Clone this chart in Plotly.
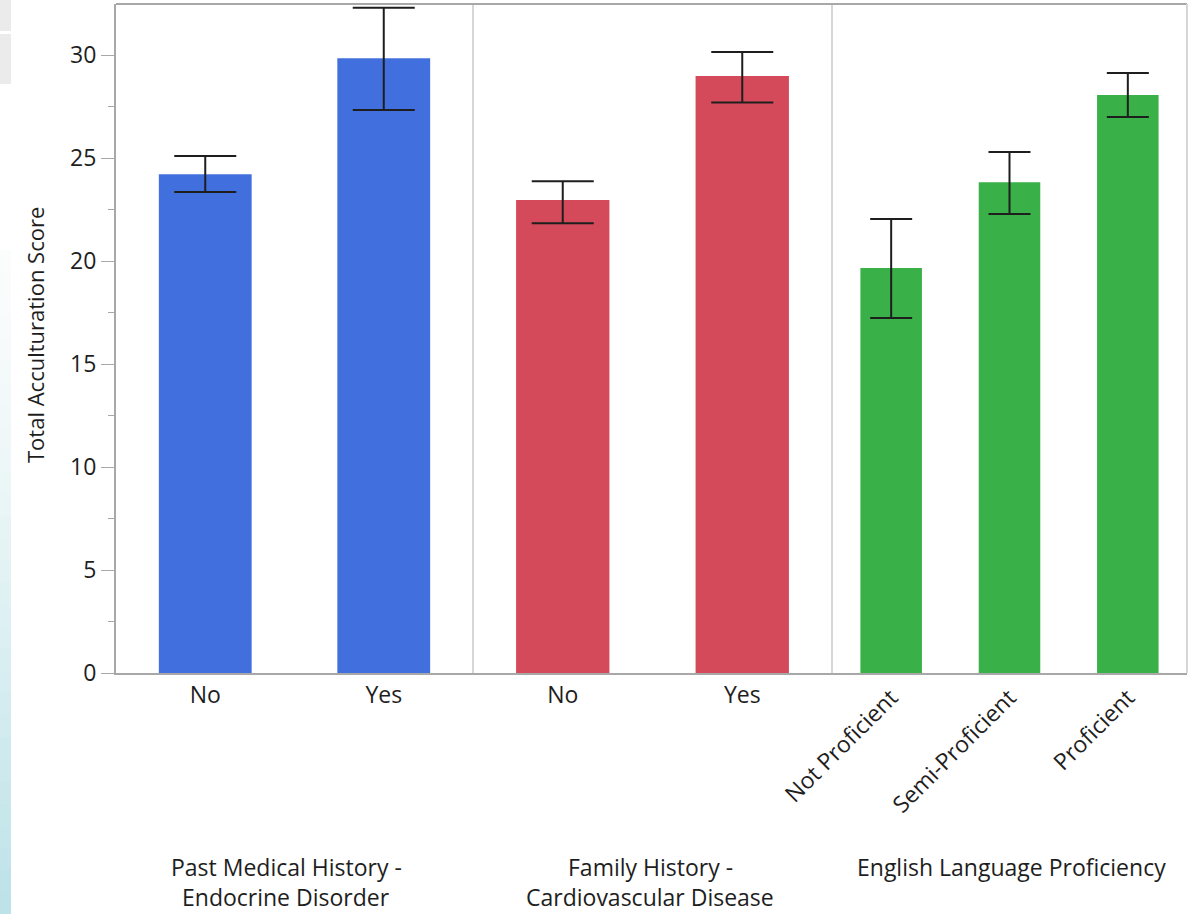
import plotly.graph_objects as go
from plotly.subplots import make_subplots

# ---- data ----
cats_pmh = ["No", "Yes"]
mean_pmh = [24.22, 29.85]
upper_pmh = [25.10, 32.30]
lower_pmh = [23.35, 27.33]

cats_fh = ["No", "Yes"]
mean_fh = [22.96, 28.98]
upper_fh = [23.88, 30.15]
lower_fh = [21.84, 27.70]

cats_elp = ["Not Proficient", "Semi-Proficient", "Proficient"]
mean_elp = [19.66, 23.83, 28.06]
upper_elp = [22.04, 25.30, 29.13]
lower_elp = [17.23, 22.28, 26.99]

group_labels = [["Past Medical History -", "Endocrine Disorder"],
                ["Family History -", "Cardiovascular Disease"],
                ["English Language Proficiency"]]
y_title = "Total Acculturation Score"

colors = ["#4170DE", "#D44A5A", "#3AB048"]
FONT = "Open Sans"
TXT = "#1E1E1E"

W, H = 1191, 914
L, R, T, B = 116, 4, 4, 241
pw = W - L - R
ph = H - T - B

fig = make_subplots(rows=1, cols=3, shared_yaxes=True, horizontal_spacing=0,
                    column_widths=[357, 359, 355])

groups = [(cats_pmh, mean_pmh, upper_pmh, lower_pmh, 31),
          (cats_fh, mean_fh, upper_fh, lower_fh, 31),
          (cats_elp, mean_elp, upper_elp, lower_elp, 21)]

for i, (c, m, u, lo, ew) in enumerate(groups):
    fig.add_trace(go.Bar(
        x=c, y=m, marker=dict(color=colors[i], line=dict(width=0)),
        width=0.52,
        error_y=dict(type="data", symmetric=False,
                     array=[a - b for a, b in zip(u, m)],
                     arrayminus=[b - a for a, b in zip(lo, m)],
                     color="#1E1E1E", thickness=2, width=ew),
        showlegend=False), row=1, col=i + 1)

axis_line = "#A8A8A8"
for i in range(3):
    fig.update_xaxes(row=1, col=i + 1, showline=True, linecolor=axis_line, linewidth=2,
                     ticks="", showgrid=False,
                     tickfont=dict(family=FONT, size=23, color=TXT),
                     tickangle=-45 if i == 2 else 0)

fig.update_yaxes(row=1, col=1, range=[0, 32.48], showline=True, linecolor=axis_line,
                 linewidth=2, ticks="outside", ticklen=13, tickcolor=axis_line, tickwidth=1,
                 dtick=5, showgrid=False, zeroline=False,
                 tickfont=dict(family=FONT, size=23, color=TXT),
                 minor=dict(ticks="outside", ticklen=6, dtick=2.5, tickcolor=axis_line,
                            showgrid=False))
for c in (2, 3):
    fig.update_yaxes(row=1, col=c, range=[0, 32.48], showgrid=False, zeroline=False,
                     showline=False, ticks="")

def px_x(p):
    return (p - L) / pw

def px_y(p):
    return (H - B - p) / ph

shapes = []
# panel separators
for xp in (473, 832):
    shapes.append(dict(type="line", xref="paper", yref="paper", x0=px_x(xp), x1=px_x(xp),
                       y0=0, y1=1, line=dict(color="#D6D6D6", width=2)))
# frame top & right
shapes.append(dict(type="line", xref="paper", yref="paper", x0=0, x1=1, y0=1, y1=1,
                   line=dict(color=axis_line, width=2)))
shapes.append(dict(type="line", xref="paper", yref="paper", x0=1, x1=1, y0=0, y1=1,
                   line=dict(color="#D6D6D6", width=2)))
# left decoration strip (slide background)
shapes.append(dict(type="rect", xref="paper", yref="paper", x0=px_x(0), x1=px_x(11),
                   y0=px_y(31), y1=px_y(0), fillcolor="#EBEBEB", line=dict(width=0), layer="below"))
shapes.append(dict(type="rect", xref="paper", yref="paper", x0=px_x(0), x1=px_x(11),
                   y0=px_y(84), y1=px_y(34), fillcolor="#EBEBEB", line=dict(width=0), layer="below"))
n = 30
y_start, y_end = 250, 914
c0 = (252, 253, 253)
c1 = (188, 226, 232)
for k in range(n):
    a = y_start + (y_end - y_start) * k / n
    b = y_start + (y_end - y_start) * (k + 1) / n
    t = ((k + 0.5) / n) ** 1.3
    col = tuple(int(c0[j] + (c1[j] - c0[j]) * t) for j in range(3))
    shapes.append(dict(type="rect", xref="paper", yref="paper", x0=px_x(0), x1=px_x(11),
                       y0=px_y(b + 0.5), y1=px_y(a), fillcolor="rgb(%d,%d,%d)" % col,
                       line=dict(width=0), layer="below"))

annotations = []
centers = [286, 650, 1011]
line_y = [867, 897]
for gl, cx in zip(group_labels, centers):
    for j, line in enumerate(gl):
        annotations.append(dict(text=line, xref="paper", yref="paper", x=px_x(cx),
                                y=px_y(line_y[j]), xanchor="center", yanchor="middle",
                                showarrow=False, font=dict(family=FONT, size=23, color=TXT)))
annotations.append(dict(text=y_title, xref="paper", yref="paper", x=px_x(35), y=px_y(335),
                        textangle=-90, xanchor="center", yanchor="middle", showarrow=False,
                        font=dict(family=FONT, size=22, color=TXT)))

fig.update_layout(width=W, height=H, margin=dict(l=L, r=R, t=T, b=B),
                  plot_bgcolor="white", paper_bgcolor="white",
                  shapes=shapes, annotations=annotations, bargap=0.48)

fig.write_html("out.html")
